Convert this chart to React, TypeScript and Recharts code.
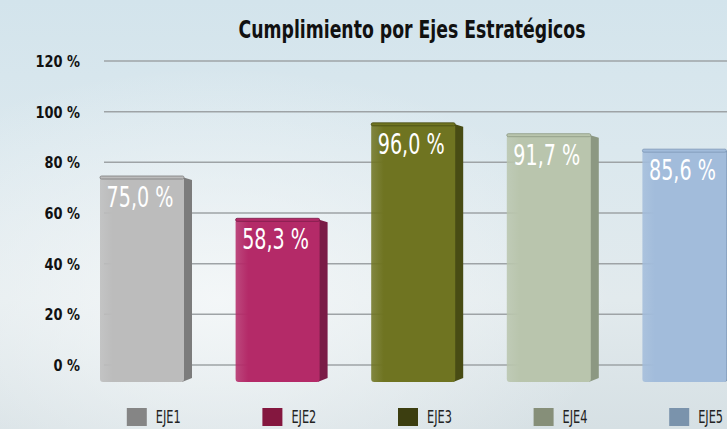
import React from "react"
import { BarChart, Bar, XAxis, YAxis, CartesianGrid, LabelList, Cell } from "recharts"

const categories = ["EJE1", "EJE2", "EJE3", "EJE4", "EJE5"]
const values = [75.0, 58.3, 96.0, 91.7, 85.6]
const yTicks = [0, 20, 40, 60, 80, 100, 120]

const frontColors = ["#bcbcbc", "#b42a68", "#6f7421", "#b9c5ad", "#a2bcdb"]
const sideColors = ["#7c7c7c", "#7a1c47", "#484c14", "#8c9882", "#7b95b4"]
const legendColors = ["#858585", "#84173f", "#3c3e10", "#868f79", "#7a93ac"]

const data = categories.map((name, i) => ({ name, value: values[i] }))

const FONT = "'DejaVu Sans Condensed', 'DejaVu Sans', sans-serif"

const fmt = (v: number) => `${v.toFixed(1).replace(".", ",")} %`

function Bar3D(props: any) {
  const { x, y, width, height, index } = props
  const c = frontColors[index]
  const s = sideColors[index]
  const ext = 17
  return (
    <g>
      <path
        d={`M${x + width - 2},${y + 2} L${x + width + 8},${y + 5} L${x + width + 8},${y + height + ext - 4} L${x + width - 2},${y + height + ext} Z`}
        fill={s}
      />
      <rect x={x} y={y + 2} width={width} height={height + ext - 2} rx={3} fill={`url(#front${index})`} />
      <rect x={x} y={y + 1} width={width} height={3} rx={1.5} fill={c} stroke={s} strokeWidth={0.8} />
    </g>
  )
}

function ValueLabel(props: any) {
  const { x, y, width, value } = props
  return (
    <text
      transform={`translate(${x + width / 2 - 2}, ${y + 32}) scale(0.76, 1)`}
      textAnchor="middle"
      fill="#ffffff"
      fontSize={28}
      fontFamily={FONT}
    >
      {fmt(value)}
    </text>
  )
}

function YTick(props: any) {
  const { x, y, payload } = props
  return (
    <text
      transform={`translate(${x}, ${y + 6}) scale(0.9, 1)`}
      textAnchor="end"
      fill="#111"
      fontSize={16}
      fontWeight={700}
      fontFamily={FONT}
    >
      {`${payload.value} %`}
    </text>
  )
}

function LegendTick(props: any) {
  const { x, y, payload, index } = props
  return (
    <g>
      <rect x={x - 15} y={y + 35} width={20} height={18} fill={legendColors[index]} />
      <text
        transform={`translate(${x + 14}, ${y + 50}) scale(0.7, 1)`}
        fontSize={18}
        fill="#222"
        fontFamily={FONT}
      >
        {payload.value}
      </text>
    </g>
  )
}

export default function App() {
  return (
    <div
      style={{
        position: "fixed",
        left: 0,
        top: 0,
        width: 727,
        height: 429,
        overflow: "hidden",
        background:
          "radial-gradient(ellipse at 30% 70%, rgba(245,248,249,0.9) 0%, rgba(245,248,249,0) 55%), linear-gradient(180deg, #d3e4ec 0%, #dbe8ee 35%, #e2eaed 70%, #d6e0e4 100%)",
      }}
    >
      <div
        style={{
          position: "absolute",
          left: 112,
          top: 16,
          width: 600,
          textAlign: "center",
          fontFamily: FONT,
          fontWeight: 700,
          fontSize: 24,
          color: "#111",
          transform: "scaleX(0.8)",
          transformOrigin: "50% 50%",
        }}
      >
        Cumplimiento por Ejes Estratégicos
      </div>
      <BarChart width={752} height={429} data={data} margin={{ top: 61, right: 0, bottom: 0, left: 0 }}>
        <defs>
          {frontColors.map((c, i) => (
            <linearGradient key={i} id={`front${i}`} x1="0" y1="0" x2="1" y2="0">
              <stop offset="0%" stopColor={c} stopOpacity={0.85} />
              <stop offset="15%" stopColor={c} />
              <stop offset="100%" stopColor={c} />
            </linearGradient>
          ))}
        </defs>
        <CartesianGrid vertical={false} stroke="#9ea3a6" strokeWidth={1.5} />
        <XAxis
          dataKey="name"
          height={64}
          axisLine={false}
          tickLine={false}
          padding={{ left: -30, right: 0 }}
          tick={<LegendTick />}
          interval={0}
        />
        <YAxis
          width={104}
          domain={[0, 120]}
          ticks={yTicks}
          axisLine={false}
          tickLine={false}
          tickMargin={18}
          tick={<YTick />}
        />
        <Bar dataKey="value" barSize={84} shape={<Bar3D />} isAnimationActive={false}>
          {data.map((d, i) => (
            <Cell key={d.name} fill={frontColors[i]} />
          ))}
          <LabelList dataKey="value" content={<ValueLabel />} />
        </Bar>
      </BarChart>
    </div>
  )
}
